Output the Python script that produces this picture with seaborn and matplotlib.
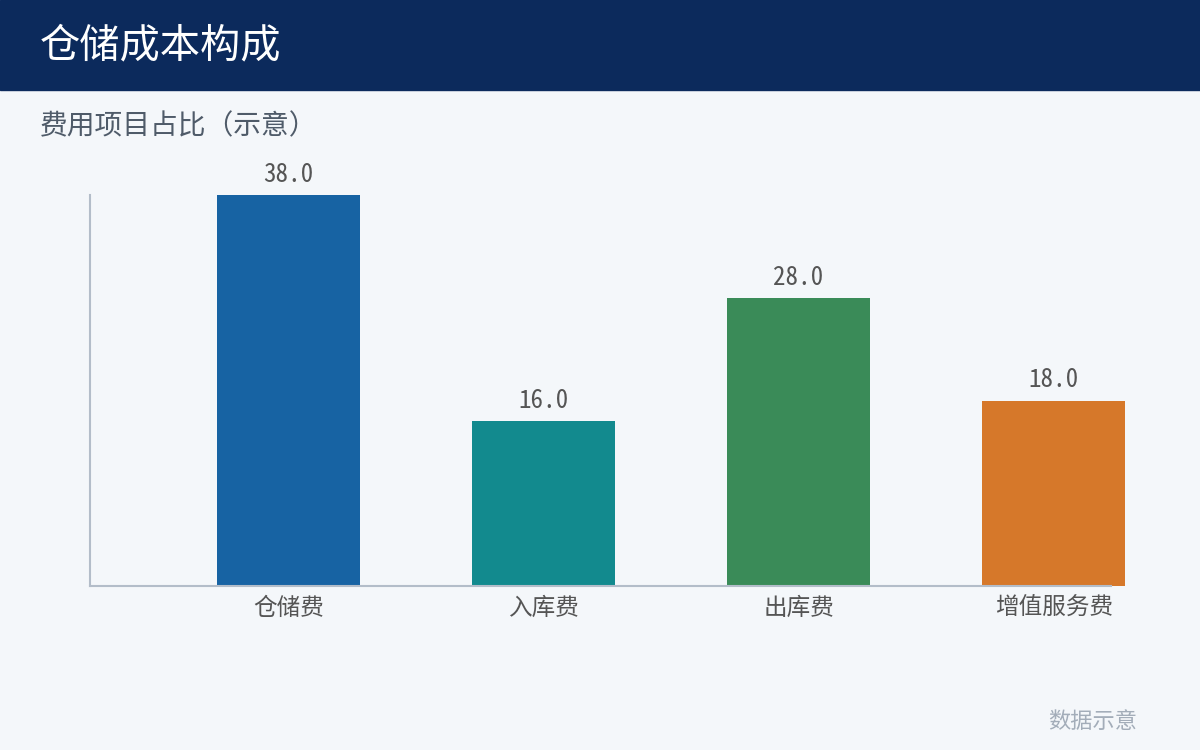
import matplotlib
matplotlib.use("Agg")
import matplotlib.pyplot as plt
import pandas as pd
import seaborn as sns

categories = ["仓储费", "入库费", "出库费", "增值服务费"]
values = [38.0, 16.0, 28.0, 18.0]
colors = ["#1763A3", "#128A8E", "#3A8B58", "#D6782A"]

title = "仓储成本构成"
subtitle = "费用项目占比（示意）"
footer = "数据示意"

BG = "#F4F7FA"
NAVY = "#0C2A5C"
AXIS = "#B3BDC9"

sns.set_theme(style="white")
plt.rcParams["font.family"] = ["Noto Sans CJK SC", "DejaVu Sans"]
MONO = ["Noto Sans Mono CJK SC", "Noto Sans CJK SC", "DejaVu Sans"]

df = pd.DataFrame({"item": categories, "value": values})

fig = plt.figure(figsize=(12, 7.5), dpi=100, facecolor=BG)
# header band
fig.patches.append(plt.Rectangle((0, 1 - 90 / 750), 1, 90 / 750,
                                 transform=fig.transFigure, color=NAVY, zorder=0))
fig.text(40 / 1200, 1 - 46 / 750, title, color="white", fontsize=29,
         va="center", ha="left")
fig.text(40 / 1200, 1 - 126 / 750, subtitle, color="#4F5B69", fontsize=20,
         va="center", ha="left")
fig.text(1137 / 1200, 1 - 721 / 750, footer, color="#A3ADB9", fontsize=16,
         va="center", ha="right")

ax = fig.add_axes([90 / 1200, 1 - 586 / 750, 1021 / 1200, 391 / 750])
ax.set_facecolor(BG)
sns.barplot(data=df, x="item", y="value", hue="item", palette=colors,
            width=0.56, legend=False, ax=ax, saturation=1)

ax.set_ylim(0, 38)
ax.set_xlim(-0.778, 3.225)
for bar in ax.patches:
    bar.set_clip_on(False)
    bar.set_edgecolor("none")

for i, v in enumerate(values):
    ax.annotate(f"{v:.1f}", (i, v), xytext=(0, 6), textcoords="offset points",
                ha="center", va="bottom", fontsize=18, color="#555555",
                family=MONO, annotation_clip=False)

ax.set_xlabel("")
ax.set_ylabel("")
ax.set_yticks([])
ax.tick_params(axis="x", length=0, pad=8, labelsize=17, labelcolor="#555555")
for s in ["top", "right"]:
    ax.spines[s].set_visible(False)
for s in ["left", "bottom"]:
    ax.spines[s].set_color(AXIS)
    ax.spines[s].set_linewidth(1.5)

fig.savefig("out.png", dpi=100, facecolor=BG)
